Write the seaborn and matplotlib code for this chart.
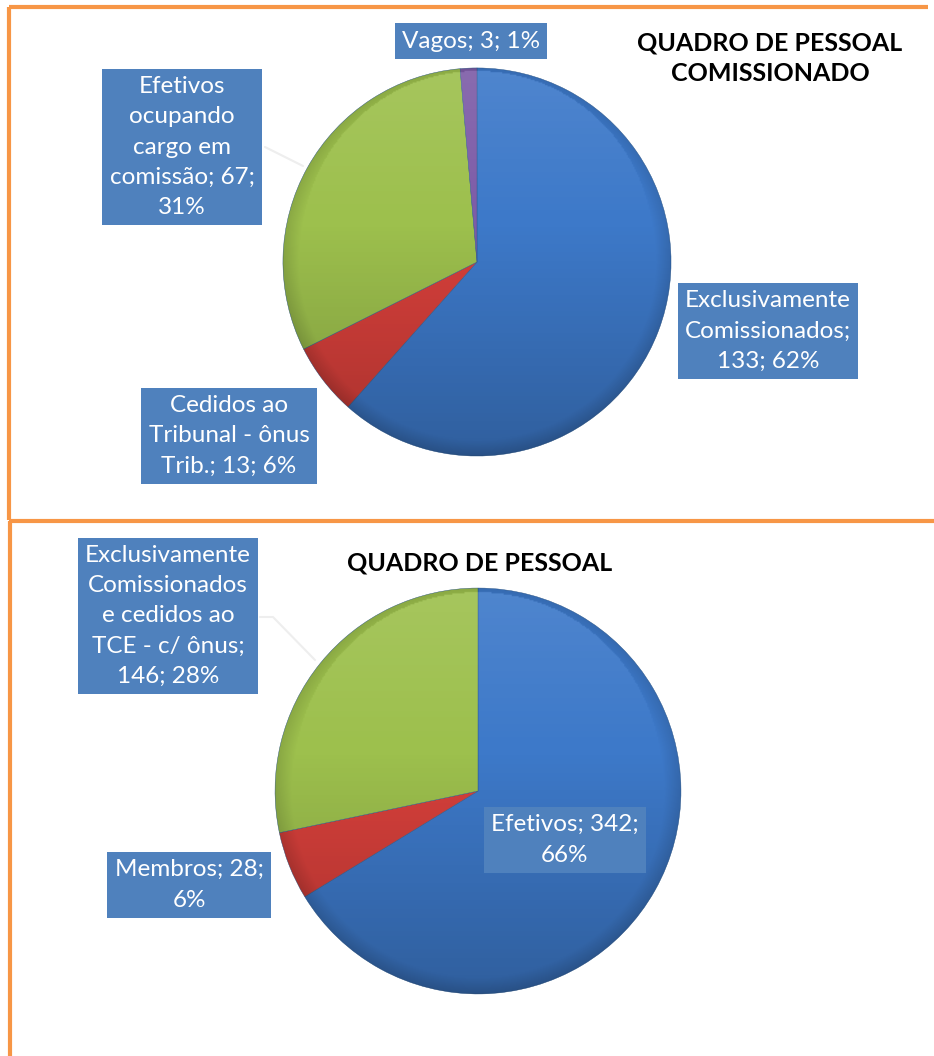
import matplotlib
matplotlib.use("Agg")
import matplotlib.pyplot as plt
import numpy as np
import seaborn as sns
from matplotlib.patches import Circle

W, H = 934, 1056

# top chart: quadro de pessoal comissionado
top_values = [133, 13, 67, 3]
top_labels = [
    "Exclusivamente\nComissionados;\n133; 62%",
    "Cedidos ao\nTribunal - ônus\nTrib.; 13; 6%",
    "Efetivos\nocupando\ncargo em\ncomissão; 67;\n31%",
    "Vagos; 3; 1%",
]
top_title = "QUADRO DE PESSOAL\nCOMISSIONADO"

# bottom chart: quadro de pessoal
bottom_values = [342, 28, 146]
bottom_labels = [
    "Efetivos; 342;\n66%",
    "Membros; 28;\n6%",
    "Exclusivamente\nComissionados\ne cedidos ao\nTCE - c/ ônus;\n146; 28%",
]
bottom_title = "QUADRO DE PESSOAL"

slice_colors = ["#3D79C9", "#D7403B", "#9DC04D", "#7D5CA7"]
box_color = "#4F81BD"
border_color = "#F79646"

sns.set_theme(style="white")
plt.rcParams["font.family"] = ["Lato", "DejaVu Sans"]

fig = plt.figure(figsize=(W / 100, H / 100), dpi=100)
fig.patch.set_facecolor("white")


def px_axes(x0, y0, x1, y1, z=1):
    return fig.add_axes([x0 / W, 1 - y1 / H, (x1 - x0) / W, (y1 - y0) / H], zorder=z)


base = px_axes(0, 0, W, H, z=0)
base.set_xlim(0, W)
base.set_ylim(H, 0)
base.axis("off")

# orange frame lines
lw = 3.0
base.plot([9, 9], [7, 520], color=border_color, lw=lw, solid_capstyle="butt")
base.plot([9, 928], [7, 7], color=border_color, lw=lw, solid_capstyle="butt")
base.plot([9, W], [521, 521], color=border_color, lw=lw, solid_capstyle="butt")
base.plot([10, 10], [521, H], color=border_color, lw=lw, solid_capstyle="butt")

# faint leader lines
base.plot([265, 303], [147, 166], color="#EEEEEE", lw=1.5)
base.plot([260, 273, 315], [617, 617, 660], color="#EEEEEE", lw=1.5)


def draw_pie(ax, values):
    ax.pie(values, colors=slice_colors[:len(values)], startangle=90,
           counterclock=False, radius=1,
           wedgeprops=dict(edgecolor="#2E5A8C", linewidth=0.3))
    ax.set_xlim(-1.01, 1.01)
    ax.set_ylim(-1.01, 1.01)
    ax.set_aspect("auto")
    # soft shading for the bevelled look
    yy, xx = np.mgrid[1:-1:300j, -1:1:300j]
    rr = np.sqrt(xx ** 2 + yy ** 2)
    shade = np.zeros((300, 300, 4))
    dark = np.clip((-yy + 0.2) * 0.18, 0, 0.22) + np.clip((rr - 0.92) * 1.5, 0, 0.12)
    light = np.clip((yy - 0.2) * 0.12, 0, 0.12)
    shade[..., :3] = np.where(light[..., None] > dark[..., None], 1.0, 0.0)
    shade[..., 3] = np.maximum(light, dark)
    im = ax.imshow(shade, extent=(-1, 1, -1, 1), zorder=5, interpolation="bilinear")
    im.set_clip_path(Circle((0, 0), 1, transform=ax.transData))
    ax.axis("off")


ax_top = px_axes(281, 66, 673, 458, z=1)
draw_pie(ax_top, top_values)
ax_bot = px_axes(273, 586, 683, 996, z=1)
draw_pie(ax_bot, bottom_values)

over = px_axes(0, 0, W, H, z=3)
over.set_xlim(0, W)
over.set_ylim(H, 0)
over.axis("off")
over.patch.set_alpha(0)

label_kw = dict(ha="center", va="center", color="white", fontsize=17.5, linespacing=1.55,
                bbox=dict(boxstyle="square,pad=0.3", facecolor=box_color, edgecolor="none"))

top_pos = [(768, 331), (229, 436), (182, 147), (471, 41)]
for text, (x, y) in zip(top_labels, top_pos):
    over.text(x, y, text, **label_kw)

bottom_pos = [(565, 840), (189, 885), (168, 616)]
for text, (x, y) in zip(bottom_labels, bottom_pos):
    over.text(x, y, text, **label_kw)

over.text(770, 58, top_title, ha="center", va="center", color="black",
          fontsize=18, fontweight="bold", linespacing=1.4)
over.text(480, 563, bottom_title, ha="center", va="center", color="black",
          fontsize=18, fontweight="bold")

fig.savefig("out.png", dpi=100, facecolor="white")
